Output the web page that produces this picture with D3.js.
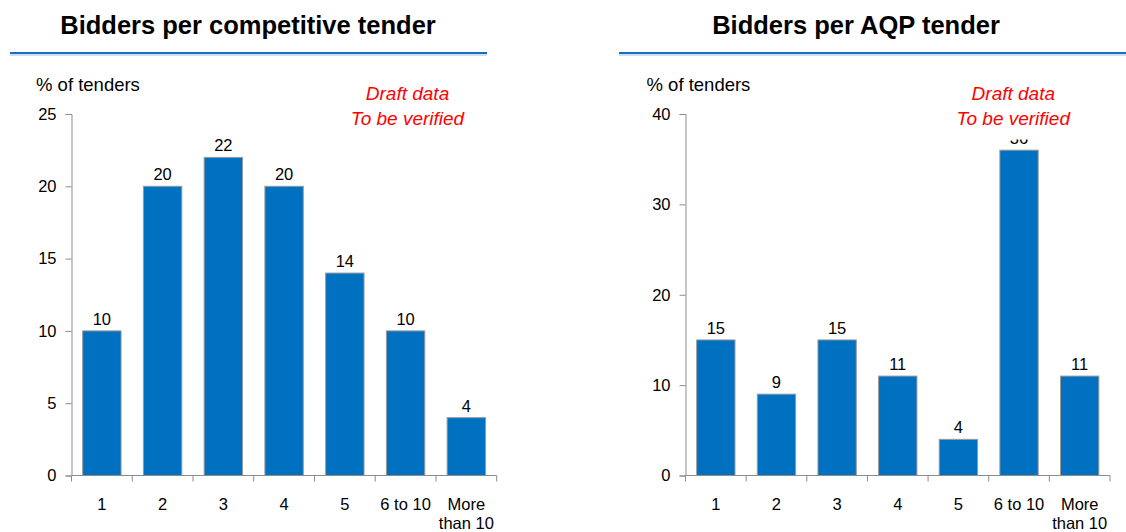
<!DOCTYPE html>
<html>
<head>
<meta charset="utf-8">
<script src="https://cdn.jsdelivr.net/npm/d3@7"></script>
<style>
  html, body { margin: 0; padding: 0; background: #fff; }
  svg { display: block; font-family: "Liberation Sans", Arial, sans-serif; }
</style>
</head>
<body>
<svg id="chart" width="1126" height="532"></svg>
<script>
// Bidder counts per tender, shown as share of tenders (%)
const categories = ["1", "2", "3", "4", "5", "6 to 10", "More than 10"];
const competitiveValues = [10, 20, 22, 20, 14, 10, 4];
const aqpValues = [15, 9, 15, 11, 4, 36, 11];
const competitiveTicks = [0, 5, 10, 15, 20, 25];
const aqpTicks = [0, 10, 20, 30, 40];
const titles = ["Bidders per competitive tender", "Bidders per AQP tender"];
const axisTitle = "% of tenders";
const noteLines = ["Draft data", "To be verified"];

const panels = [
  { title: titles[0], values: competitiveValues, ticks: competitiveTicks,
    titleX: 248, rule: [10, 487], x0: 71.5, x1: 496.7, labelX: 36, noteX: 407.5 },
  { title: titles[1], values: aqpValues, ticks: aqpTicks,
    titleX: 856, rule: [619, 1126], x0: 685.5, x1: 1110, labelX: 646.5, noteX: 1013.3 }
];

const svg = d3.select("#chart");
const plotTop = 114, plotBottom = 475.5;
const barColor = "#0070C0", axisColor = "#8c8c8c";

panels.forEach(p => {
  const g = svg.append("g");

  // heading with blue rule underneath
  g.append("text").attr("x", p.titleX).attr("y", 34)
    .attr("text-anchor", "middle").attr("font-size", 25.5).attr("font-weight", "bold")
    .attr("fill", "#000").text(p.title);
  g.append("line").attr("x1", p.rule[0]).attr("x2", p.rule[1]).attr("y1", 53).attr("y2", 53)
    .attr("stroke", "#1a6cc0").attr("stroke-width", 2.2);
  g.append("line").attr("x1", p.rule[0]).attr("x2", p.rule[1]).attr("y1", 55).attr("y2", 55)
    .attr("stroke", "#9cc0e6").attr("stroke-width", 1.2);

  g.append("text").attr("x", p.labelX).attr("y", 91)
    .attr("font-size", 18.5).attr("fill", "#000").text(axisTitle);

  const x = d3.scaleBand().domain(categories).range([p.x0, p.x1])
    .paddingInner(0.368).paddingOuter(0.184);
  const y = d3.scaleLinear().domain([0, d3.max(p.ticks)]).range([plotBottom, plotTop]);

  // bars
  g.selectAll("rect.bar").data(p.values).join("rect")
    .attr("class", "bar")
    .attr("x", (d, i) => x(categories[i]))
    .attr("width", x.bandwidth())
    .attr("y", d => y(d))
    .attr("height", d => y(0) - y(d))
    .attr("fill", barColor).attr("stroke", "#9a9a9a").attr("stroke-width", 1);

  // value labels
  g.selectAll("text.val").data(p.values).join("text")
    .attr("class", "val")
    .attr("x", (d, i) => x(categories[i]) + x.bandwidth() / 2)
    .attr("y", d => y(d) - 6)
    .attr("text-anchor", "middle").attr("font-size", 16.5).attr("fill", "#000")
    .text(d => d);

  // y axis
  const yAxis = g.append("g").attr("transform", `translate(${p.x0},0)`)
    .call(d3.axisLeft(y).tickValues(p.ticks).tickSize(6).tickPadding(9));
  yAxis.select(".domain").attr("stroke", axisColor);
  yAxis.selectAll(".tick line").attr("stroke", axisColor);
  yAxis.selectAll(".tick text").attr("font-size", 16.5).attr("fill", "#000")
    .attr("font-family", "Liberation Sans, Arial, sans-serif");

  // x axis: labels centred in bands, ticks on band boundaries
  const xAxis = g.append("g").attr("transform", `translate(0,${plotBottom})`)
    .call(d3.axisBottom(x).tickSize(0).tickPadding(23));
  xAxis.select(".domain").remove();
  xAxis.selectAll(".tick text").attr("font-size", 16.5).attr("fill", "#000")
    .attr("font-family", "Liberation Sans, Arial, sans-serif")
    .each(function(d) {
      const t = d3.select(this);
      if (d === "More than 10") {
        t.text(null).attr("dy", null);
        t.append("tspan").attr("x", 0).attr("dy", "0.71em").text("More");
        t.append("tspan").attr("x", 0).attr("dy", "1.14em").text("than 10");
      }
    });
  g.append("line").attr("x1", p.x0).attr("x2", p.x1).attr("y1", plotBottom).attr("y2", plotBottom)
    .attr("stroke", axisColor);
  const bounds = categories.map(c => x(c) - x.step() * x.paddingInner() / 2).concat([p.x1]);
  g.selectAll("line.bound").data(bounds).join("line")
    .attr("class", "bound")
    .attr("x1", d => d).attr("x2", d => d)
    .attr("y1", plotBottom).attr("y2", plotBottom + 6)
    .attr("stroke", axisColor);

  // draft note on a white patch
  g.append("rect").attr("x", p.noteX - 62).attr("y", 80).attr("width", 124).attr("height", 59.5)
    .attr("fill", "#fff");
  noteLines.forEach((line, i) => {
    g.append("text").attr("x", p.noteX).attr("y", 100 + i * 25)
      .attr("text-anchor", "middle").attr("font-size", 19).attr("font-style", "italic")
      .attr("fill", "#ff0000").text(line);
  });
});
</script>
</body>
</html>
